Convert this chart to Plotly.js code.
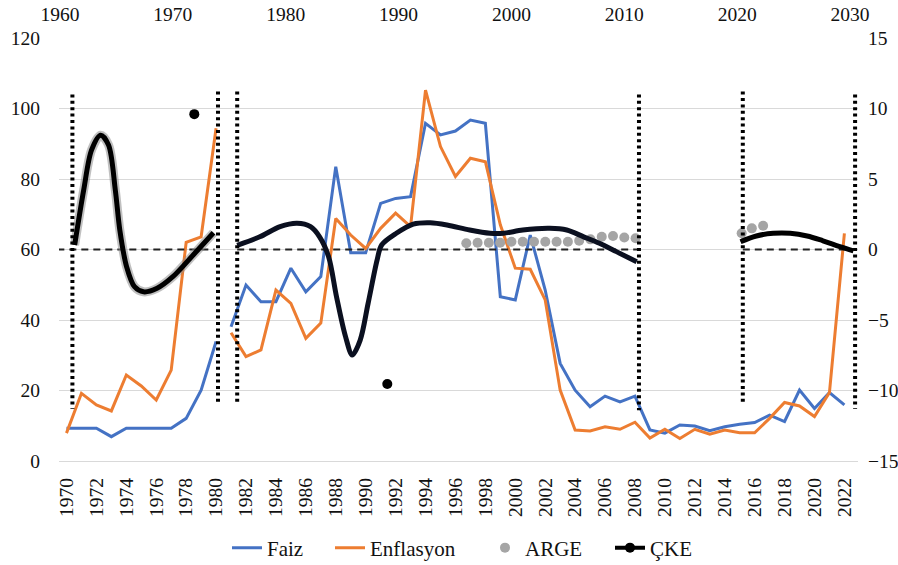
<!DOCTYPE html>
<html><head><meta charset="utf-8">
<script src="https://cdn.plot.ly/plotly-3.0.1.min.js"></script>
<style>html,body{margin:0;padding:0;background:#fff}</style>
</head><body>
<div id="chart" style="width:898px;height:565px"></div>
<script>
// ---- Bottom (category) axis data: Faiz & Enflasyon, left axis ----
const years = ['1970','1971','1972','1973','1974','1975','1976','1977','1978','1979',
  '1980','1981','1982','1983','1984','1985','1986','1987','1988','1989',
  '1990','1991','1992','1993','1994','1995','1996','1997','1998','1999',
  '2000','2001','2002','2003','2004','2005','2006','2007','2008','2009',
  '2010','2011','2012','2013','2014','2015','2016','2017','2018','2019',
  '2020','2021','2022'];
const faiz = [9.3,9.3,9.3,6.9,9.3,9.3,9.3,9.3,12.1,20.1,
  33.9,38.1,49.9,45.2,45.2,54.7,48.0,52.3,83.5,59.1,
  59.1,73.1,74.5,75.0,95.8,92.5,93.6,96.7,95.8,46.6,
  45.7,64.1,48.5,27.7,20.1,15.4,18.4,16.8,18.4,8.8,
  7.9,10.2,9.9,8.6,9.7,10.4,10.9,13.0,11.2,20.1,
  14.9,19.4,15.9];
const enflasyon = [7.9,19.2,15.9,14.2,24.4,21.3,17.3,25.8,62.0,63.6,
  94.4,36.4,29.6,31.5,48.5,44.7,34.8,39.1,68.8,64.1,
  60.3,66.0,70.3,66.5,105.2,89.2,80.7,85.9,84.9,67.0,
  54.7,54.4,45.7,20.1,8.8,8.5,9.7,9.0,11.0,6.5,
  9.0,6.4,9.0,7.6,8.8,8.0,8.0,12.1,16.6,15.6,
  12.6,19.4,64.6];
const seriesBreakAfter = '1980';   // the two lines are not joined between 1980 and 1981

// ---- Top (year) axis data: ARGE & ÇKE, right axis ----
const argeYears  = [1996,1997,1998,1999,2000,2001,2002,2003,2004,2005,2006,2007,2008,2009,2010,2011,2020.4,2021.3,2022.3];
const argeValues = [0.44,0.48,0.48,0.48,0.55,0.55,0.55,0.55,0.55,0.55,0.62,0.72,0.9,0.96,0.85,0.8,1.15,1.5,1.69];

const ckeYears1  = [1961.3,1962.1,1962.8,1963.6,1964.3,1964.9,1965.3,1965.9,1966.6,1967.4,1968.6,1970.0,1971.8,1973.6];
const ckeValues1 = [0.32,4.22,7.06,8.1,7.41,4.22,1.38,-1.22,-2.64,-3.0,-2.75,-1.93,-0.39,1.19];
const ckeYears2  = [1975.7,1977.7,1979.5,1981.0,1982.2,1983.0,1983.8,1984.5,1985.3,1985.9,1986.6,1987.3,1988.1,1988.5,1989.8,1991.3,1992.8,1994.3,1996.3,1998.1,1999.3,2001.0,2003.4,2004.9,2006.4,2007.8,2009.3,2011.1];
const ckeValues2 = [0.3,0.9,1.62,1.86,1.62,0.9,-0.51,-3.35,-6.18,-7.48,-6.42,-3.82,-0.74,0.32,1.15,1.8,1.9,1.74,1.38,1.15,1.15,1.38,1.5,1.38,0.9,0.44,-0.15,-0.87];
const ckeYears3  = [2020.3,2021.7,2023.2,2024.7,2026.2,2027.6,2029.1,2030.3];
const ckeValues3 = [0.55,0.96,1.15,1.15,0.96,0.62,0.2,-0.1];
const ckeDotYears  = [1971.9, 1989.0];
const ckeDotValues = [9.6, -9.54];

// period separators (dotted) and zero reference (dashed)
const breakYears  = [1961.1,1974.0,1975.7,2011.3,2020.5,2030.45];
const breakTop    = [11.0,11.2,11.2,11.0,11.2,11.0];
const breakBottom = [-11.3,-11.0,-11.0,-11.4,-11.0,-11.3];
const zeroStart = [1958.7,1975.7,2020.5];
const zeroEnd   = [1973.7,2011.2,2030.2];
const zeroLevel = 0;

// ---- build traces ----
const cut = years.indexOf(seriesBreakAfter) + 1;
const FONT = 'Liberation Serif';
const blue = '#4472C4', orange = '#ED7D31', gray = '#A5A5A5';

function seg(arr, a, b){ return arr.slice(a, b); }

const bx = [], by = [];
breakYears.forEach((yr,i)=>{ bx.push(yr, yr, null); by.push(breakTop[i], breakBottom[i], null); });
const zx = [], zy = [];
zeroStart.forEach((s,i)=>{ zx.push(s, zeroEnd[i], null); zy.push(zeroLevel, zeroLevel, null); });

const dotX = [], dotY = [];
ckeDotYears.forEach((yr,i)=>{ dotX.push(yr, null); dotY.push(ckeDotValues[i], null); });

const traces = [
  {x: seg(years,0,cut), y: seg(faiz,0,cut), type:'scatter', mode:'lines', name:'Faiz', legendgroup:'f', legend:'legend',
   line:{color:blue, width:3}, xaxis:'x', yaxis:'y'},
  {x: seg(years,cut), y: seg(faiz,cut), type:'scatter', mode:'lines', name:'Faiz', legendgroup:'f', showlegend:false,
   line:{color:blue, width:3}, xaxis:'x', yaxis:'y'},
  {x: seg(years,0,cut), y: seg(enflasyon,0,cut), type:'scatter', mode:'lines', name:'Enflasyon', legendgroup:'e', legend:'legend2',
   line:{color:orange, width:3}, xaxis:'x', yaxis:'y'},
  {x: seg(years,cut), y: seg(enflasyon,cut), type:'scatter', mode:'lines', name:'Enflasyon', legendgroup:'e', showlegend:false,
   line:{color:orange, width:3}, xaxis:'x', yaxis:'y'},
  {x: zx, y: zy, type:'scatter', mode:'lines', showlegend:false, hoverinfo:'skip', connectgaps:false,
   line:{color:'#222', width:2, dash:'7px,5px'}, xaxis:'x2', yaxis:'y2'},
  {x: argeYears, y: argeValues, type:'scatter', mode:'markers', name:'ARGE', legend:'legend3',
   marker:{color:gray, size:10}, xaxis:'x2', yaxis:'y2'},
  {x: ckeYears1, y: ckeValues1, type:'scatter', mode:'lines', showlegend:false, hoverinfo:'skip',
   line:{color:'rgba(140,140,140,0.55)', width:9, shape:'spline', smoothing:0.9}, xaxis:'x2', yaxis:'y2'},
  {x: ckeYears1, y: ckeValues1, type:'scatter', mode:'lines', showlegend:false, legendgroup:'c',
   line:{color:'#000', width:5, shape:'spline', smoothing:0.9}, xaxis:'x2', yaxis:'y2'},
  {x: ckeYears2, y: ckeValues2, type:'scatter', mode:'lines', showlegend:false, legendgroup:'c',
   line:{color:'#0b1020', width:5, shape:'spline', smoothing:0.9}, xaxis:'x2', yaxis:'y2'},
  {x: ckeYears3, y: ckeValues3, type:'scatter', mode:'lines', showlegend:false, legendgroup:'c',
   line:{color:'#000', width:5, shape:'spline'}, xaxis:'x2', yaxis:'y2'},
  {x: dotX, y: dotY, type:'scatter', mode:'lines+markers', name:'ÇKE', legendgroup:'c', legend:'legend4', connectgaps:false,
   line:{color:'#000', width:4}, marker:{color:'#000', size:10}, xaxis:'x2', yaxis:'y2'},
  {x: bx, y: by, type:'scatter', mode:'lines', showlegend:false, hoverinfo:'skip', connectgaps:false,
   line:{color:'#000', width:4, dash:'3px,3.4px'}, xaxis:'x2', yaxis:'y2'}
];

// plot area geometry
const L = 59, R = 858, T = 38, B = 461, W = 898, H = 565;
const catPx = 14.96, yrPx = 11.286;
const catMax = (R - L) / catPx - 0.5;
const yrMin = 1960 - (60 - L) / yrPx;
const yrMax = yrMin + (R - L) / yrPx;

const tickFont = {family: FONT, size: 19.5, color: '#111'};
const legFont = {family: FONT, size: 21, color: '#111'};
const legendRowPx = 548;
function leg(px){ return {orientation:'h', xref:'container', yref:'container',
  x: px / W, xanchor:'left', y: (H - legendRowPx) / H, yanchor:'middle',
  font: legFont, bgcolor:'rgba(0,0,0,0)', borderwidth:0}; }
// legend entries' text start positions (px)
const legendTextPx = [267, 370, 525, 650];

const layout = {
  width: W, height: H,
  font: {family: FONT, size: 19.5, color:'#111'},
  margin: {l: L, r: W - R, t: T, b: H - B, pad: 0, autoexpand: false},
  paper_bgcolor: '#fff', plot_bgcolor: '#fff',
  showlegend: true,
  legend: leg(legendTextPx[0] - 40),
  legend2: leg(legendTextPx[1] - 40),
  legend3: leg(legendTextPx[2] - 40),
  legend4: leg(legendTextPx[3] - 40),
  xaxis: {type:'category', range:[-0.5, catMax], tickangle:-90, showgrid:false, zeroline:false,
          ticks:'', showline:false, tickfont: tickFont, ticklabelstandoff: 12},
  yaxis: {range:[0,120], dtick:20, tick0:0, showgrid:true, gridcolor:'#d9d9d9', gridwidth:1,
          zeroline:true, zerolinecolor:'#d9d9d9', zerolinewidth:1, ticks:'', showline:false,
          tickfont: tickFont, ticklabelstandoff: 18},
  xaxis2: {overlaying:'x', side:'top', range:[yrMin, yrMax], tick0:1960, dtick:10, showgrid:false,
           zeroline:false, ticks:'', showline:false, tickfont: tickFont, ticklabelstandoff: 12},
  yaxis2: {overlaying:'y', side:'right', range:[-15,15], dtick:5, tick0:-15, showgrid:false,
           zeroline:false, ticks:'', showline:false, tickfont: tickFont, ticklabelstandoff: 9}
};

Plotly.newPlot('chart', traces, layout, {displayModeBar:false, staticPlot:true});
</script>
</body></html>
